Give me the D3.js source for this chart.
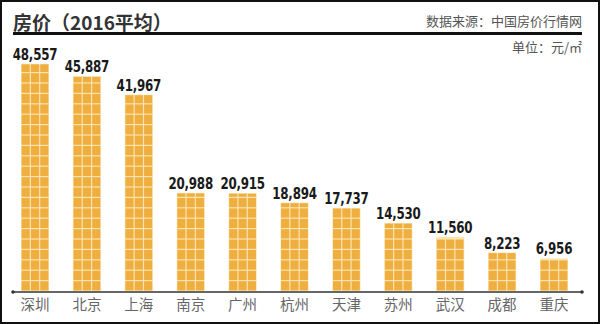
<!DOCTYPE html>
<html><head><meta charset="utf-8">
<script src="https://cdn.jsdelivr.net/npm/d3@7"></script>
<style>body{margin:0;background:#fff}svg{display:block}</style>
</head><body>
<script>
const cities = ["深圳","北京","上海","南京","广州","杭州","天津","苏州","武汉","成都","重庆"];
const prices = [48557,45887,41967,20988,20915,18894,17737,14530,11560,8223,6956];
const title = "房价（2016平均）";
const source = "数据来源：中国房价行情网";
const unit = "单位：元/㎡";

const W = 600, H = 324, base = 291;
const svg = d3.select("body").append("svg").attr("width", W).attr("height", H);
svg.append("rect").attr("x",1).attr("y",1).attr("width",W-2).attr("height",H-2)
  .attr("fill","#fff").attr("stroke","#111").attr("stroke-width",2);

const x = d3.scaleBand().domain(cities).range([21,568]).paddingInner(0.46).paddingOuter(0);
const y = d3.scaleLinear().domain([0,50000]).range([base, base-234]);

svg.append("text").attr("x",13).attr("y",30).text(title)
  .attr("font-family","Noto Sans CJK SC").attr("font-weight","bold").attr("font-size",19).attr("fill","#333");
svg.append("line").attr("x1",13).attr("x2",582).attr("y1",33.5).attr("y2",33.5).attr("stroke","#111").attr("stroke-width",3);
svg.append("text").attr("x",582).attr("y",26).attr("text-anchor","end").text(source)
  .attr("font-family","Noto Sans CJK SC").attr("font-size",13).attr("fill","#555");
svg.append("text").attr("x",582).attr("y",52).attr("text-anchor","end").text(unit)
  .attr("font-family","Noto Sans CJK SC").attr("font-size",13).attr("fill","#555");

const bw = x.bandwidth(), cols = 3, pitchX = bw/cols, pitchY = 10.4;
const g = svg.append("g");
cities.forEach((c,i) => {
  const bx = x(c), top = y(prices[i]);
  g.append("rect").attr("x",bx).attr("y",top).attr("width",bw).attr("height",base-top).attr("fill","#fbe3ad");
  const nRows = Math.ceil((base-top)/pitchY);
  for (let r=0;r<nRows;r++){
    const y1 = base - r*pitchY - 0.6;
    const y0 = Math.max(top + 0.6, base - (r+1)*pitchY + 0.6);
    if (y1 - y0 < 1) continue;
    for (let k=0;k<cols;k++){
      g.append("rect").attr("x",bx + k*pitchX + 0.6).attr("y",y0)
        .attr("width",pitchX-1.2).attr("height",y1-y0).attr("fill","#efae40");
    }
  }
  svg.append("text").attr("transform",`translate(${bx+bw/2},${top-4}) scale(0.8,1)`).attr("text-anchor","middle")
    .text(d3.format(",")(prices[i]))
    .attr("font-family","DejaVu Sans Condensed").attr("font-weight","bold").attr("font-size",16.5)
    .attr("letter-spacing",-0.3).attr("fill","#1a1a1a");
  svg.append("text").attr("x",bx+bw/2).attr("y",310).attr("text-anchor","middle").text(c)
    .attr("font-family","Noto Sans CJK SC").attr("font-size",14.5).attr("fill","#666");
});

svg.append("line").attr("x1",13).attr("x2",582).attr("y1",292).attr("y2",292).attr("stroke","#333").attr("stroke-width",1.3);
svg.append("circle").attr("cx",13).attr("cy",292).attr("r",1.8).attr("fill","#333");
svg.append("circle").attr("cx",582).attr("cy",292).attr("r",1.8).attr("fill","#333");
</script>
</body></html>
